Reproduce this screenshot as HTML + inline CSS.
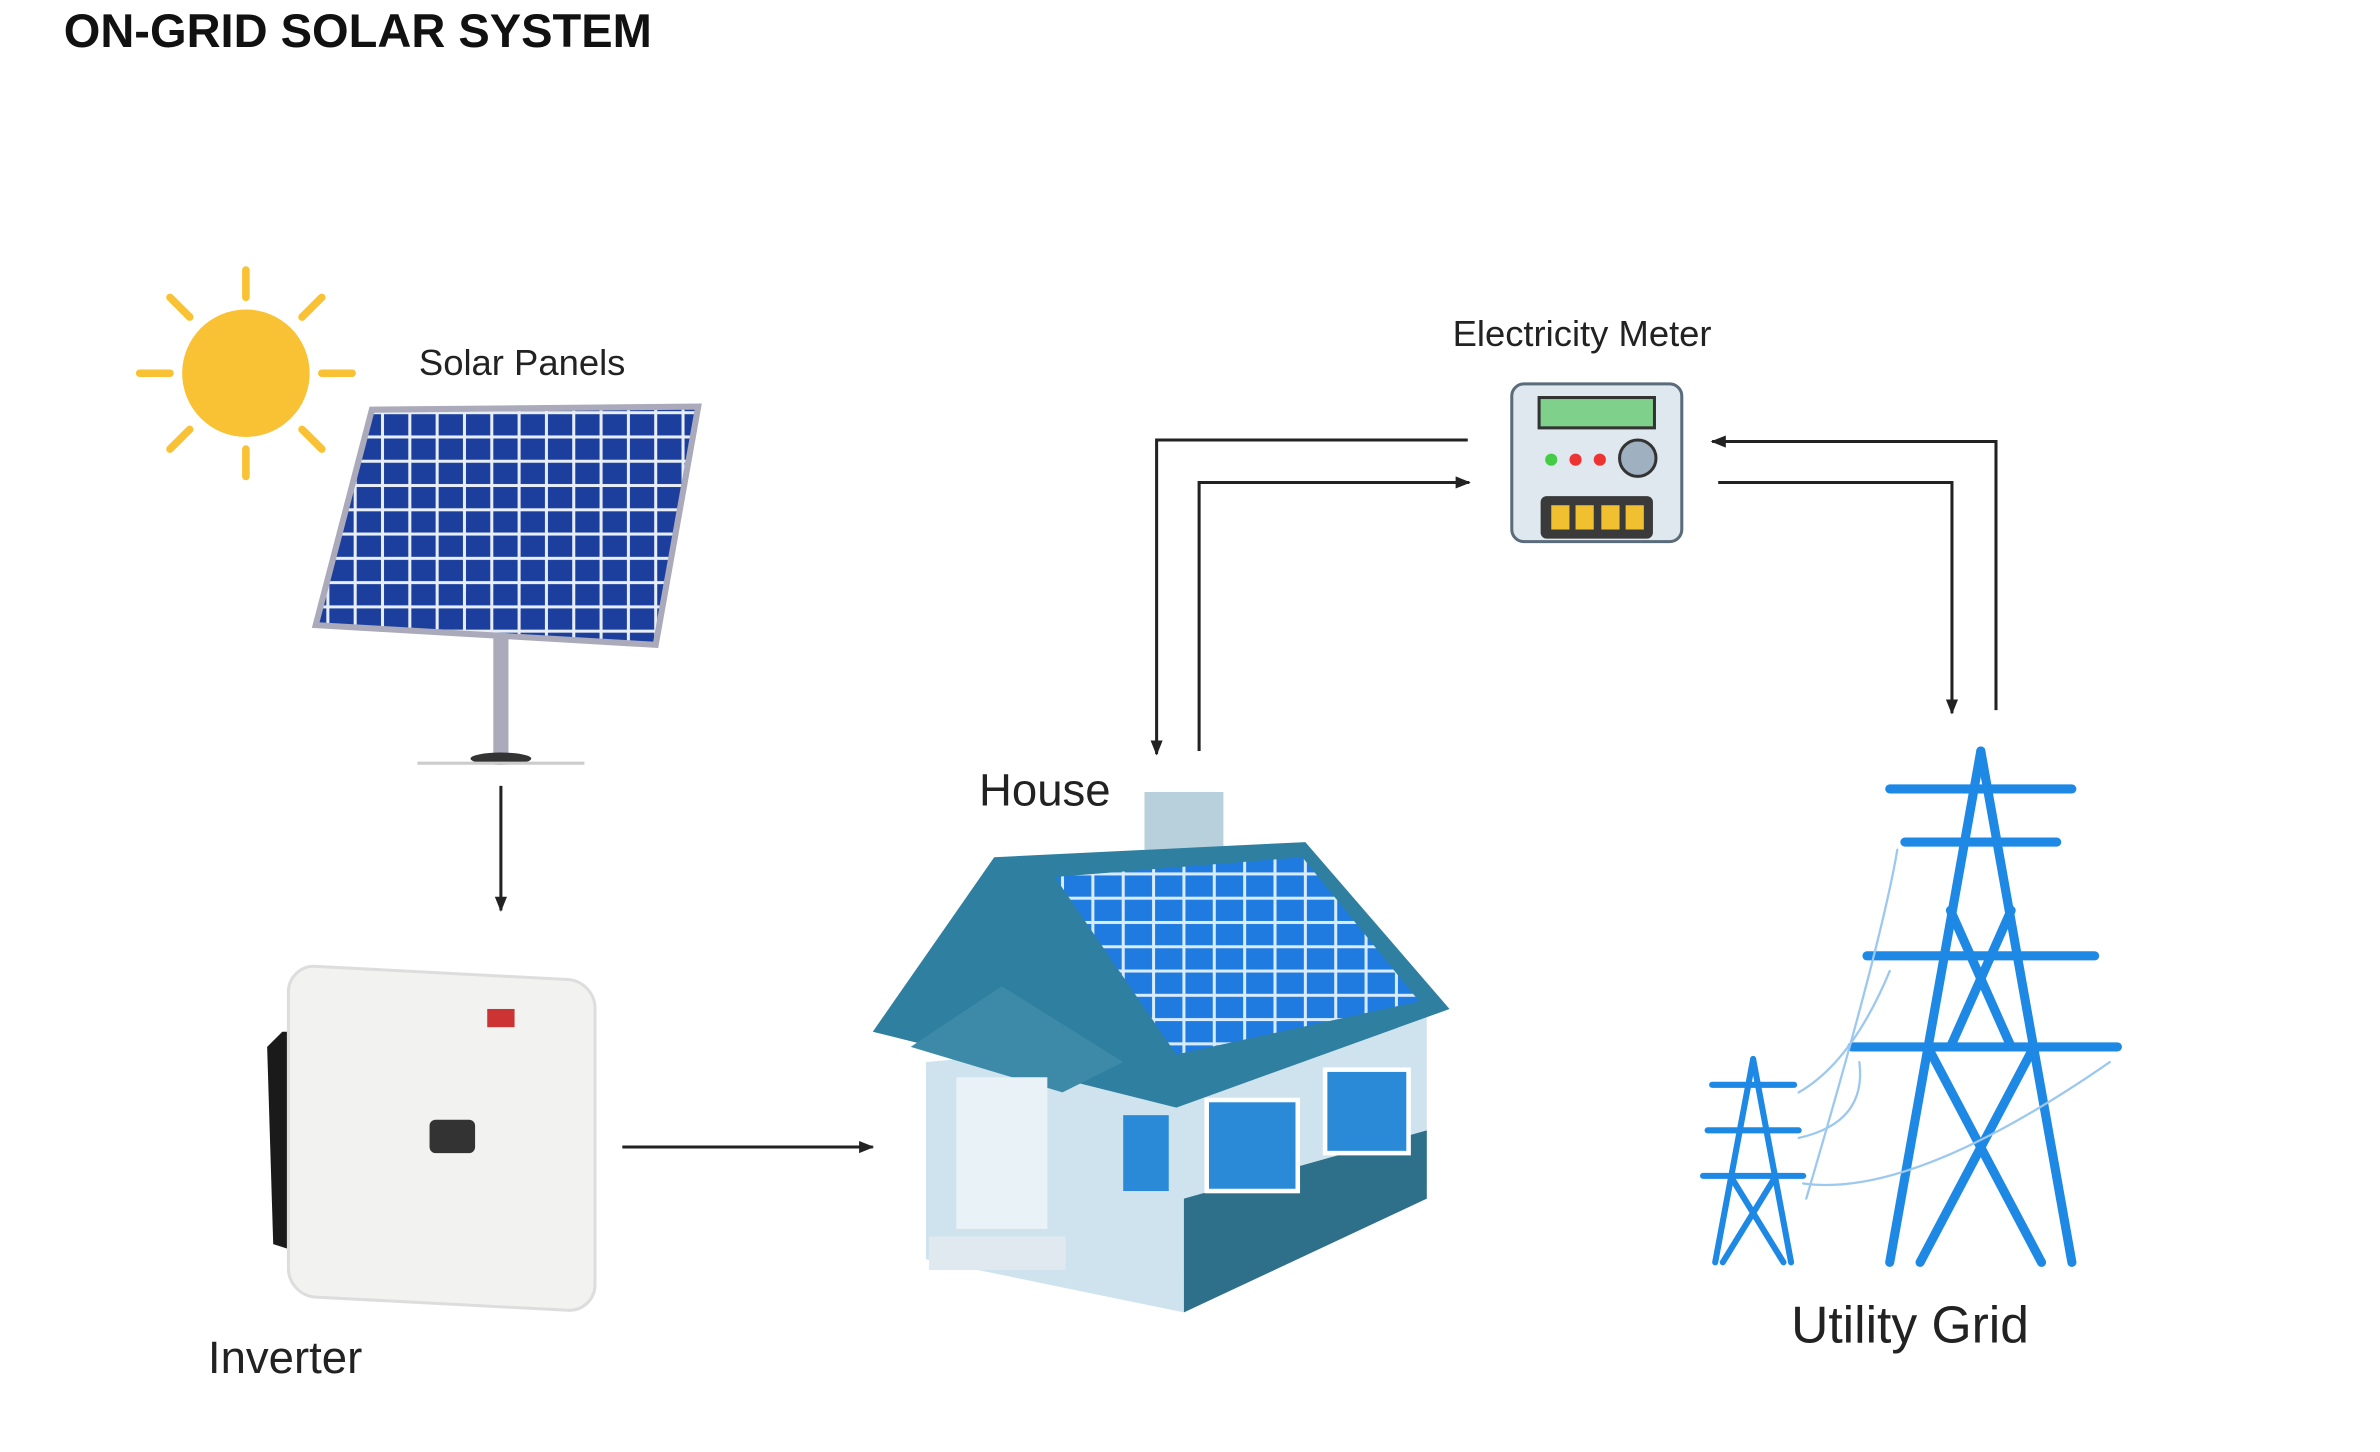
<!DOCTYPE html>
<html><head><meta charset="utf-8"><style>
html,body{margin:0;padding:0;background:#fff;}
svg{display:block;}
text{font-family:"Liberation Sans",Arial,sans-serif;}
</style></head><body>
<svg width="2380" height="1452" viewBox="0 0 1568 957" preserveAspectRatio="none" xmlns="http://www.w3.org/2000/svg">
<defs>
<marker id="ah" markerWidth="10" markerHeight="10" refX="9" refY="5" orient="auto" markerUnits="userSpaceOnUse"><path d="M0,1 L10,5 L0,9 Z" fill="#222"/></marker>
<pattern id="cells" width="18" height="16" patternUnits="userSpaceOnUse"><rect width="18" height="16" fill="#e8eef8"/><rect x="1" y="1" width="16" height="14" fill="#1c3f9e"/></pattern>
<pattern id="cells2" width="20" height="16" patternUnits="userSpaceOnUse"><rect width="20" height="16" fill="#d8ecff"/><rect x="1" y="1" width="18" height="14" fill="#1f7be0"/></pattern>
</defs>
<text x="42" y="31" font-size="31" font-weight="bold" fill="#111">ON-GRID SOLAR SYSTEM</text>

<g stroke="#F9C134" stroke-width="5" stroke-linecap="round">
<line x1="162" y1="178" x2="162" y2="196"/><line x1="162" y1="296" x2="162" y2="314"/>
<line x1="92" y1="246" x2="112" y2="246"/><line x1="212" y1="246" x2="232" y2="246"/>
<line x1="112" y1="196" x2="125" y2="209"/><line x1="199" y1="283" x2="212" y2="296"/>
<line x1="212" y1="196" x2="199" y2="209"/><line x1="125" y1="283" x2="112" y2="296"/>
</g>
<circle cx="162" cy="246" r="42" fill="#F9C134"/>

<text x="276" y="247" font-size="24" fill="#222">Solar Panels</text>
<rect x="325" y="420" width="10" height="78" fill="#aab"/>
<ellipse cx="330" cy="500" rx="20" ry="4" fill="#333"/>
<line x1="275" y1="503" x2="385" y2="503" stroke="#ccc" stroke-width="2"/>
<polygon points="245,270 460,268 432,425 208,412" fill="url(#cells)" stroke="#aab" stroke-width="4"/>

<line x1="330" y1="518" x2="330" y2="600" stroke="#222" stroke-width="2" marker-end="url(#ah)"/>

<path d="M186,680 L176,690 L180,820 L205,828 L200,680 Z" fill="#1a1a1a"/>
<rect x="190" y="640" width="202" height="218" rx="18" fill="#f2f2f0" stroke="#ddd" stroke-width="2" transform="skewY(3) translate(0,-14)"/>
<rect x="283" y="738" width="30" height="22" rx="4" fill="#333"/>
<rect x="321" y="665" width="18" height="12" fill="#c33"/>
<text x="137" y="905" font-size="30" fill="#222">Inverter</text>

<line x1="410" y1="756" x2="575" y2="756" stroke="#222" stroke-width="2" marker-end="url(#ah)"/>

<text x="645" y="531" font-size="30" fill="#222">House</text>
<rect x="754" y="522" width="52" height="40" fill="#b8d0dc"/>
<polygon points="610,700 940,670 940,790 780,865 610,830" fill="#cfe3ee"/>
<polygon points="780,790 940,745 940,790 780,865" fill="#2e6f8a"/>
<polygon points="575,680 655,565 860,555 955,665 775,730" fill="#2e7fa0"/>
<polygon points="695,578 858,565 935,660 775,695" fill="url(#cells2)"/>
<polygon points="600,690 660,650 740,700 700,720" fill="#3d8aa8"/>
<rect x="630" y="710" width="60" height="100" fill="#e8f2f7"/>
<rect x="740" y="735" width="30" height="50" fill="#2a8ad8"/>
<rect x="795" y="725" width="60" height="60" fill="#2a8ad8" stroke="#fff" stroke-width="3"/>
<rect x="873" y="705" width="55" height="55" fill="#2a8ad8" stroke="#fff" stroke-width="3"/>
<rect x="612" y="815" width="90" height="22" fill="#dfe9ef"/>

<text x="957" y="228" font-size="24" fill="#222">Electricity Meter</text>
<rect x="996" y="253" width="112" height="104" rx="8" fill="#dfe7ef" stroke="#5a6b7a" stroke-width="2"/>
<rect x="1014" y="262" width="76" height="20" fill="#7fd08a" stroke="#333" stroke-width="2"/>
<circle cx="1022" cy="303" r="4" fill="#4c4"/><circle cx="1038" cy="303" r="4" fill="#e33"/><circle cx="1054" cy="303" r="4" fill="#e33"/>
<circle cx="1079" cy="302" r="12" fill="#9fb0c0" stroke="#333" stroke-width="2"/>
<rect x="1015" y="327" width="74" height="28" rx="4" fill="#3a3a3a"/>
<rect x="1022" y="333" width="12" height="16" fill="#f0c030"/><rect x="1038" y="333" width="12" height="16" fill="#f0c030"/><rect x="1055" y="333" width="12" height="16" fill="#f0c030"/><rect x="1071" y="333" width="12" height="16" fill="#f0c030"/>

<g fill="none" stroke="#222" stroke-width="2">
<polyline points="967,290 762,290 762,497" marker-end="url(#ah)"/>
<polyline points="790,495 790,318 968,318" marker-end="url(#ah)"/>
<polyline points="1315,468 1315,291 1128,291" marker-end="url(#ah)"/>
<polyline points="1132,318 1286,318 1286,470" marker-end="url(#ah)"/>
</g>

<g stroke="#1E88E5" fill="none" stroke-linecap="round">
<g stroke-width="6">
<line x1="1305" y1="495" x2="1245" y2="832"/><line x1="1305" y1="495" x2="1365" y2="832"/>
<line x1="1245" y1="520" x2="1365" y2="520"/><line x1="1255" y1="555" x2="1355" y2="555"/>
<line x1="1230" y1="630" x2="1380" y2="630"/><line x1="1220" y1="690" x2="1395" y2="690"/>
<line x1="1285" y1="600" x2="1325" y2="690"/><line x1="1325" y1="600" x2="1285" y2="690"/>
<line x1="1270" y1="690" x2="1345" y2="832"/><line x1="1340" y1="690" x2="1265" y2="832"/>
</g>
<g stroke-width="4">
<line x1="1155" y1="698" x2="1130" y2="832"/><line x1="1155" y1="698" x2="1180" y2="832"/>
<line x1="1128" y1="715" x2="1182" y2="715"/><line x1="1125" y1="745" x2="1185" y2="745"/><line x1="1122" y1="775" x2="1188" y2="775"/>
<line x1="1140" y1="775" x2="1175" y2="832"/><line x1="1170" y1="775" x2="1135" y2="832"/>
</g>
<g stroke="#9cc8f0" stroke-width="1.5">
<path d="M1185,720 Q1220,700 1245,640"/><path d="M1185,750 Q1230,740 1225,700"/><path d="M1188,780 Q1260,790 1390,700"/><path d="M1190,790 Q1240,620 1250,560"/>
</g>
</g>
<text x="1180" y="885" font-size="34" fill="#222">Utility Grid</text>
</svg>
</body></html>
